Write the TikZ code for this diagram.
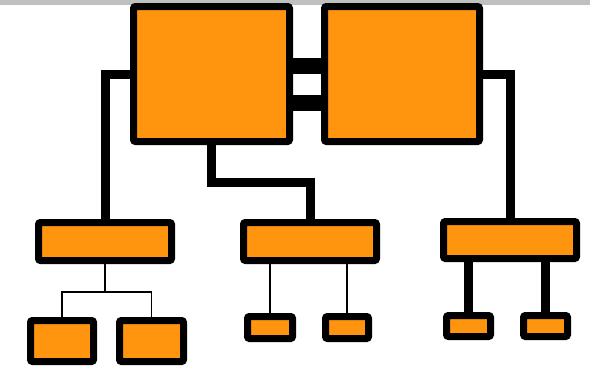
\documentclass[tikz,border=0pt]{standalone}
\definecolor{oborange}{RGB}{255,148,14}
\definecolor{obgrey}{RGB}{192,192,192}
\usepackage{xcolor}
\usepackage{tikz}
\begin{document}
\begin{tikzpicture}[x=1pt,y=-1pt,
    obbox/.style={draw=black,fill=oborange,line width=7pt,rounded corners=2pt,inner sep=0pt},
    obthick/.style={draw=black,line width=9pt},
    obthin/.style={draw=black,line width=1.5pt}]
        \useasboundingbox (0,0) rectangle (590,367);
        \fill[obgrey] (0,0) rectangle (590,4.5);
        % top pair
        \node[obbox,minimum width=156,minimum height=135] (topL) at (211.5,74) {};
        \node[obbox,minimum width=155,minimum height=135] (topR) at (402,74) {};
        % middle row
        \node[obbox,minimum width=133,minimum height=38] (midL) at (105,241.5) {};
        \node[obbox,minimum width=133,minimum height=38] (midC) at (310,241.5) {};
        \node[obbox,minimum width=133,minimum height=37] (midR) at (510,240) {};
        % bottom row
        \node[obbox,minimum width=63,minimum height=41] (botL1) at (62,341) {};
        \node[obbox,minimum width=64,minimum height=41] (botL2) at (151.5,341) {};
        \node[obbox,minimum width=45,minimum height=22] (botC1) at (270,327.5) {};
        \node[obbox,minimum width=43,minimum height=22] (botC2) at (347,327.5) {};
        \node[obbox,minimum width=44,minimum height=21] (botR1) at (468.5,326) {};
        \node[obbox,minimum width=44,minimum height=21] (botR2) at (545.5,326) {};
        % links
        \draw[black,line width=16pt] ([yshift=-29]topL.east) -- ([yshift=-29]topR.west);
        \draw[black,line width=16pt] ([yshift=8]topL.east) -- ([yshift=8]topR.west);
        \draw[obthick] (topL.west) -| (midL.north);
        \draw[obthick] (topR.east) -| (midR.north);
        \draw[obthick] (topL.south) -- ++(0,37.5) -| (midC.north);
        \draw[obthin] (midL.south) -- ++(0,28) coordinate (jL);
        \draw[obthin] (botL1.north) |- (jL) -| (botL2.north);
        \draw[obthin] (botC1.north) -- (botC1.north |- midC.south);
        \draw[obthin] (botC2.north) -- (botC2.north |- midC.south);
        \draw[obthick] (botR1.north) -- (botR1.north |- midR.south);
        \draw[obthick] (botR2.north) -- (botR2.north |- midR.south);
      \end{tikzpicture}
\end{document}
